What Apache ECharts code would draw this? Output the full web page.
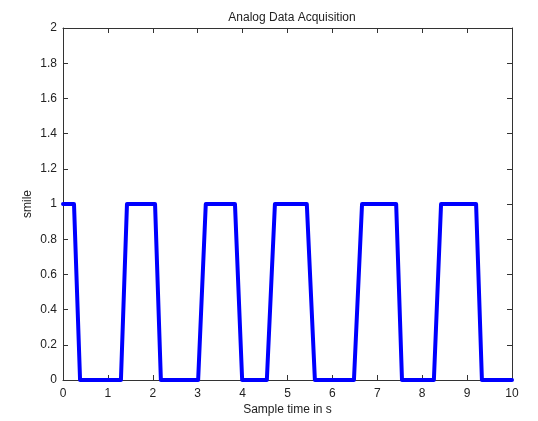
<!DOCTYPE html>
<html>
<head>
<meta charset="utf-8">
<script src="https://cdn.jsdelivr.net/npm/echarts@6/dist/echarts.min.js"></script>
<style>
  html, body { margin: 0; padding: 0; background: #fff; }
  #chart { width: 538px; height: 421px; }
</style>
</head>
<body>
<div id="chart"></div>
<script>
// corner points of the acquired signal (time in s, value)
var sampleTime = [0, 0.245, 0.38, 1.29, 1.425, 2.05, 2.18, 3.01, 3.18, 3.83, 3.99,
  4.54, 4.72, 5.43, 5.61, 6.48, 6.66, 7.42, 7.55, 8.26, 8.42, 9.2, 9.33, 10];
var smile = [1, 1, 0, 0, 1, 1, 0, 0, 1, 1, 0,
  0, 1, 1, 0, 0, 1, 1, 0, 0, 1, 1, 0, 0];
var xTicks = [0, 1, 2, 3, 4, 5, 6, 7, 8, 9, 10];
var yTicks = [0, 0.2, 0.4, 0.6, 0.8, 1, 1.2, 1.4, 1.6, 1.8, 2];

var fontName = 'Liberation Sans, Arial, sans-serif';
var txt = '#222';

var points = [];
for (var i = 0; i < sampleTime.length; i++) {
  points.push([sampleTime[i], smile[i]]);
}

function axisBase(extra) {
  var a = {
    type: 'value',
    axisLine: { show: true, onZero: false, lineStyle: { color: '#333', width: 1 } },
    axisTick: { show: true, inside: true, length: 5, lineStyle: { color: '#333' } },
    splitLine: { show: false },
    axisLabel: { color: txt, fontFamily: fontName, fontSize: 12 }
  };
  for (var k in extra) a[k] = extra[k];
  return a;
}

var chart = echarts.init(document.getElementById('chart'));
chart.setOption({
  animation: false,
  backgroundColor: '#fff',
  title: {
    text: 'Analog Data Acquisition',
    left: 287, top: 7, textAlign: 'center',
    textStyle: { color: txt, fontFamily: fontName, fontSize: 12, fontWeight: 'normal' }
  },
  grid: { left: 63, right: 26, top: 28, bottom: 40 },
  xAxis: [
    axisBase({
      min: xTicks[0], max: xTicks[xTicks.length - 1], interval: 1, position: 'bottom',
      name: 'Sample time in s', nameLocation: 'middle', nameGap: 24, nameMoveOverlap: false,
      nameTextStyle: { color: txt, fontFamily: fontName, fontSize: 12 },
      axisLabel: { color: txt, fontFamily: fontName, fontSize: 12, margin: 8 }
    }),
    axisBase({
      min: xTicks[0], max: xTicks[xTicks.length - 1], interval: 1, position: 'top',
      axisLabel: { show: false }
    })
  ],
  yAxis: [
    axisBase({
      min: yTicks[0], max: yTicks[yTicks.length - 1], interval: 0.2, position: 'left',
      name: 'smile', nameLocation: 'middle', nameGap: 29, nameMoveOverlap: false,
      nameTextStyle: { color: txt, fontFamily: fontName, fontSize: 12 },
      axisLabel: {
        color: txt, fontFamily: fontName, fontSize: 12, margin: 6,
        formatter: function (v) { return String(Math.round(v * 10) / 10); }
      }
    }),
    axisBase({
      min: yTicks[0], max: yTicks[yTicks.length - 1], interval: 0.2, position: 'right',
      axisLabel: { show: false }
    })
  ],
  series: [{
    type: 'line',
    data: points,
    showSymbol: false,
    symbol: 'none',
    lineStyle: { color: '#0000ff', width: 4, join: 'round', cap: 'round' }
  }]
});
</script>
</body>
</html>
